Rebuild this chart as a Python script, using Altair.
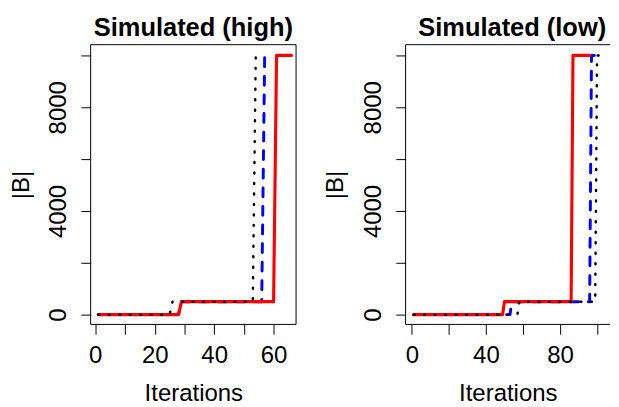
import altair as alt
import pandas as pd

FONT = "Liberation Sans"

# ---- Simulated (high) ----
high_red_x = [1, 28, 29, 60, 61, 66]
high_red_y = [0, 0, 500, 500, 10000, 10000]
high_blue_x = [1, 28, 29, 56, 57, 58]
high_blue_y = [0, 0, 500, 500, 10000, 10000]
high_black_x = [1, 25, 26, 53, 54]
high_black_y = [0, 0, 500, 500, 10000]

# ---- Simulated (low) ----
low_red_x = [1, 49, 50, 86, 87, 96]
low_red_y = [0, 0, 500, 500, 10000, 10000]
low_blue_x = [1, 53, 54, 96, 97, 102]
low_blue_y = [0, 0, 500, 500, 10000, 10000]
low_black_x = [1, 57, 58, 99, 100, 101]
low_black_y = [0, 0, 500, 500, 10000, 10000]

# ---- axes ----
high_x_ticks = [0, 10, 20, 30, 40, 50, 60]
high_x_labels = [0, 20, 40, 60]
low_x_ticks = [0, 20, 40, 60, 80, 100]
low_x_labels = [0, 40, 80]
y_ticks = [0, 2000, 4000, 6000, 8000, 10000]
y_labels = [0, 4000, 8000]

H = 286
Y_DOMAIN = [-377, 10415]
FS = 24.5


def label_expr(vals):
    arr = "[" + ",".join(str(v) for v in vals) + "]"
    return f"indexof({arr}, datum.value) >= 0 ? datum.label : ''"


def axis_common():
    return dict(
        domain=False, grid=False, ticks=True, tickColor="black", tickSize=10,
        tickWidth=1, labelFont=FONT, labelFontSize=FS, labelColor="black",
        titleFont=FONT, titleFontSize=FS, titleFontWeight="normal",
        titleColor="black", format="d", labelFlush=False, labelOverlap=False,
    )


def panel(title, series, xdom, xticks, xlabels, W, title_dx, right_border):
    xenc = alt.X(
        "x:Q",
        scale=alt.Scale(domain=xdom, nice=False, zero=False),
        axis=alt.Axis(
            values=xticks, labelExpr=label_expr(xlabels), title="Iterations",
            labelBaseline="alphabetic", labelPadding=29, labelAngle=0,
            titleBaseline="alphabetic", titleY=78, **axis_common(),
        ),
    )
    yenc = alt.Y(
        "y:Q",
        scale=alt.Scale(domain=Y_DOMAIN, nice=False, zero=False),
        axis=alt.Axis(
            values=y_ticks, labelExpr=label_expr(y_labels), title="|B|",
            labelAngle=270, labelAlign="center",
            labelBaseline="alphabetic", labelPadding=16,
            titleAngle=270, titleAlign="center", titleBaseline="alphabetic",
            titleX=-64, titleY=H / 2, **axis_common(),
        ),
    )
    layers = []
    for xv, yv, color, dash, sw in series:
        df = pd.DataFrame({"x": xv, "y": yv, "o": list(range(len(xv)))})
        kw = dict(color=color, strokeWidth=sw, strokeCap="round",
                  strokeJoin="round", clip=True)
        if dash:
            kw["strokeDash"] = dash
        layers.append(
            alt.Chart(df).mark_line(**kw).encode(x=xenc, y=yenc, order="o:Q")
        )
    one = pd.DataFrame({"a": [0]})
    box = alt.Chart(one).mark_rule(color="black", strokeWidth=1)
    layers.append(box.encode(x=alt.value(0), x2=alt.value(W), y=alt.value(0)))
    layers.append(box.encode(x=alt.value(0), x2=alt.value(W), y=alt.value(H)))
    layers.append(box.encode(x=alt.value(0), y=alt.value(0), y2=alt.value(H)))
    if right_border:
        layers.append(box.encode(x=alt.value(W), y=alt.value(0), y2=alt.value(H)))
    layers.append(
        alt.Chart(one).mark_text(
            text=title, font=FONT, fontSize=26, fontWeight="bold",
            color="black", align="center", baseline="alphabetic",
        ).encode(x=alt.value(W / 2 + title_dx), y=alt.value(-9.3))
    )
    return alt.layer(*layers).properties(width=W, height=H)


BLUE_DASH = [9, 10]
DOT = [1, 9.7]

left = panel(
    "Simulated (high)",
    [
        (high_blue_x, high_blue_y, "#0000ff", BLUE_DASH, 3),
        (high_red_x, high_red_y, "#ff0000", None, 3.2),
        (high_black_x, high_black_y, "#000000", DOT, 2.5),
    ],
    [-1.56, 67.56], high_x_ticks, high_x_labels, 210, 0, True,
)
right = panel(
    "Simulated (low)",
    [
        (low_blue_x, low_blue_y, "#0000ff", BLUE_DASH, 3),
        (low_red_x, low_red_y, "#ff0000", None, 3.2),
        (low_black_x, low_black_y, "#000000", DOT, 2.5),
    ],
    [-3.38, 107.0], low_x_ticks, low_x_labels, 209, 4.5, False,
)

chart = (
    alt.hconcat(left, right, spacing=27)
    .properties(padding={"left": 0.5, "top": 2, "right": 0, "bottom": 0},
                background="white")
    .configure_view(stroke=None)
    .configure_axis(grid=False, domain=False)
)

chart.save("out.html", embed_options={"renderer": "svg", "actions": False})
